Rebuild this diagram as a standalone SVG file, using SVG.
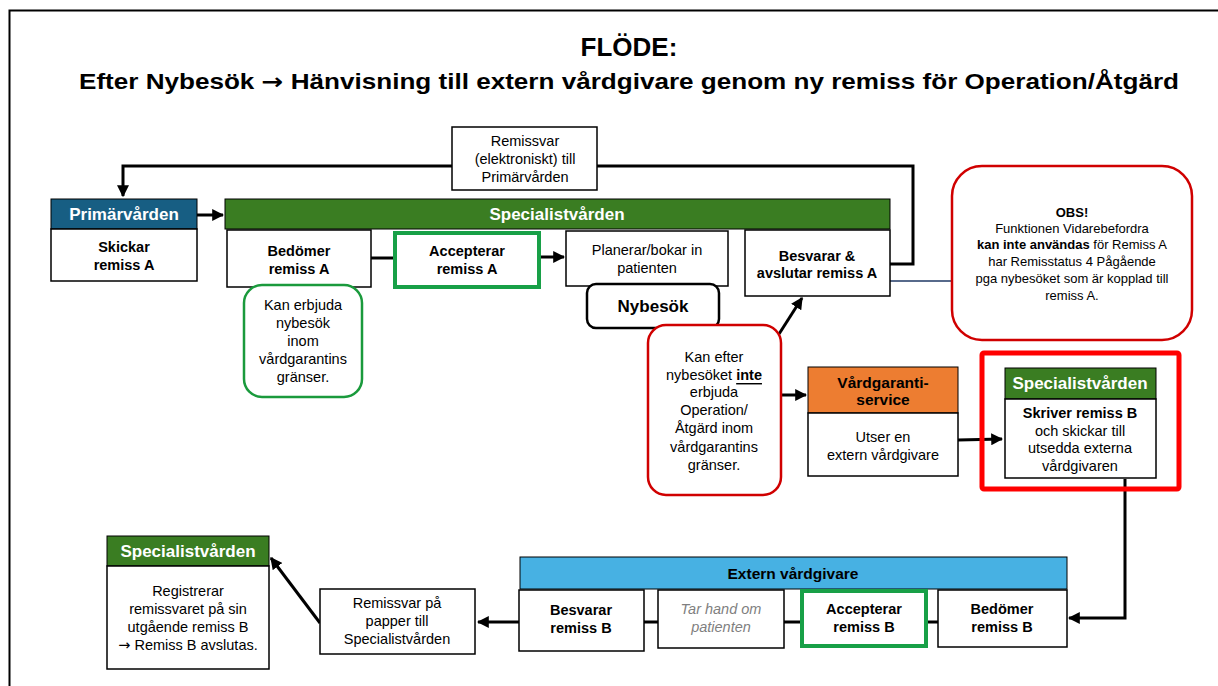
<svg xmlns="http://www.w3.org/2000/svg" width="1218" height="686" viewBox="0 0 1218 686">
  <defs>
    <marker id="arr" viewBox="0 0 10 10" refX="9" refY="5" markerWidth="4" markerHeight="4" orient="auto" markerUnits="strokeWidth">
      <path d="M0,0 L10,5 L0,10 z" fill="#000"/>
    </marker>
    <style>
      text { font-family: "Liberation Sans", Arial, sans-serif; fill: #000; text-anchor: middle; dominant-baseline: central; }
      .title { font-size: 26px; font-weight: bold; }
      .sub { font-size: 22px; font-weight: bold; }
      .hdr { font-size: 17px; font-weight: bold; fill: #fff; }
      .hdrk { font-size: 15.5px; font-weight: bold; }
      .b { font-size: 14.5px; font-weight: bold; }
      .n { font-size: 14.5px; }
      .s { font-size: 13px; }
      .it { font-size: 14.5px; font-style: italic; fill: #7f7f7f; }
      .arrow-glyph { font-family: "DejaVu Sans", sans-serif; }
      .box { fill: #fff; stroke: #000; stroke-width: 1.5; }
      .okbox { fill: #fff; stroke: #18a047; stroke-width: 4; }
      .h-blue { fill: #175e83; stroke: #000; stroke-width: 1; }
      .h-green { fill: #3a7d22; stroke: #000; stroke-width: 1; }
      .h-orange { fill: #ed7d31; stroke: #000; stroke-width: 1; }
      .h-sky { fill: #47b1e3; stroke: #000; stroke-width: 1; }
      .note-ok { fill: #fff; stroke: #1a9a3c; stroke-width: 2.5; }
      .note-no { fill: #fff; stroke: #d00000; stroke-width: 2.5; }
      .conn { fill: none; stroke: #000; stroke-width: 3; }
    </style>
  </defs>

  <rect width="1218" height="686" fill="#fff"/>
  <!-- page frame -->
  <path d="M9.5,686 V10.5 H1218" fill="none" stroke="#000" stroke-width="2"/>

  <!-- heading -->
  <g id="title">
    <text class="title" x="629" y="47">FLÖDE:</text>
    <text class="sub" x="629" y="81" textLength="1100" lengthAdjust="spacingAndGlyphs">Efter Nybesök <tspan class="arrow-glyph">→</tspan> Hänvisning  till extern vårdgivare genom ny remiss för Operation/Åtgärd</text>
  </g>

  <!-- connectors -->
  <g id="connectors">
    <polyline class="conn" points="890,264 913,264 913,166 123,166 123,196" marker-end="url(#arr)"/>
    <line class="conn" x1="197" y1="215" x2="223" y2="215" marker-end="url(#arr)"/>
    <line class="conn" x1="371" y1="258" x2="394" y2="258"/>
    <line class="conn" x1="540" y1="257" x2="564" y2="257" marker-end="url(#arr)"/>
    <line class="conn" x1="779" y1="334" x2="802" y2="298" marker-end="url(#arr)"/>
    <line x1="890" y1="281" x2="953" y2="281" stroke="#1f3864" stroke-width="1.5"/>
    <line class="conn" x1="781" y1="395" x2="806" y2="395" marker-end="url(#arr)"/>
    <line class="conn" x1="958" y1="440" x2="1002" y2="439" marker-end="url(#arr)"/>
    <polyline class="conn" points="1125,479 1125,618 1069,618" marker-end="url(#arr)"/>
    <line class="conn" x1="938" y1="622" x2="478" y2="622" marker-end="url(#arr)"/>
    <line class="conn" x1="320" y1="623" x2="271" y2="558" marker-end="url(#arr)"/>
  </g>

  <!-- electronic answer label -->
  <g id="remissvar-elektroniskt">
    <rect class="box" x="452" y="127" width="145" height="63" stroke-width="1"/>
    <text class="n" x="525" y="141">Remissvar</text>
    <text class="n" x="525" y="159">(elektroniskt) till</text>
    <text class="n" x="525" y="177">Primärvården</text>
  </g>

  <g id="primarvarden">
    <rect class="h-blue" x="51" y="199" width="146" height="30"/>
    <text class="hdr" x="124" y="214">Primärvården</text>
    <rect class="box" x="51" y="229" width="146" height="52"/>
    <text class="b" x="124" y="247">Skickar</text>
    <text class="b" x="124" y="265">remiss A</text>
  </g>

  <g id="specialistvarden-a">
    <rect class="h-green" x="225" y="199" width="665" height="30"/>
    <text class="hdr" x="557" y="214">Specialistvården</text>
  </g>

  <g id="bedomer-a">
    <rect class="box" x="227" y="230" width="144" height="57"/>
    <text class="b" x="299" y="251">Bedömer</text>
    <text class="b" x="299" y="269">remiss A</text>
  </g>

  <g id="accepterar-a">
    <rect class="okbox" x="395" y="233" width="144" height="54"/>
    <text class="b" x="467" y="251">Accepterar</text>
    <text class="b" x="467" y="269">remiss A</text>
  </g>

  <g id="planerar">
    <rect class="box" x="566" y="231" width="162" height="55"/>
    <text class="n" x="647" y="250">Planerar/bokar in</text>
    <text class="n" x="647" y="268">patienten</text>
  </g>

  <g id="nybesok">
    <rect x="587" y="284" width="132" height="44" rx="9" fill="#fff" stroke="#000" stroke-width="2.5"/>
    <text x="653" y="306" style="font-size:17px;font-weight:bold">Nybesök</text>
  </g>

  <g id="besvarar-a">
    <rect class="box" x="745" y="230" width="145" height="66"/>
    <text class="b" x="817" y="256">Besvarar &amp;</text>
    <text class="b" x="817" y="273">avslutar remiss A</text>
  </g>

  <g id="obs">
    <rect class="note-no" x="952" y="166" width="240" height="174" rx="30"/>
    <text class="s" x="1072" y="212" style="font-weight:bold">OBS!</text>
    <text class="s" x="1072" y="228">Funktionen Vidarebefordra</text>
    <text class="s" x="1072" y="244"><tspan font-weight="bold">kan inte användas</tspan> för Remiss A</text>
    <text class="s" x="1072" y="261">har Remisstatus 4 Pågående</text>
    <text class="s" x="1072" y="278">pga nybesöket som är kopplad till</text>
    <text class="s" x="1072" y="295">remiss A.</text>
  </g>

  <g id="kan-erbjuda">
    <rect class="note-ok" x="244" y="285" width="118" height="112" rx="18"/>
    <text class="n" x="303" y="305">Kan erbjuda</text>
    <text class="n" x="303" y="323">nybesök</text>
    <text class="n" x="303" y="341">inom</text>
    <text class="n" x="303" y="359">vårdgarantins</text>
    <text class="n" x="303" y="377">gränser.</text>
  </g>

  <g id="kan-inte">
    <rect class="note-no" x="648" y="325" width="133" height="170" rx="18"/>
    <text class="n" x="714" y="357">Kan efter</text>
    <text class="n" x="714" y="375">nybesöket <tspan font-weight="bold" text-decoration="underline">inte</tspan></text>
    <text class="n" x="714" y="392">erbjuda</text>
    <text class="n" x="714" y="410">Operation/</text>
    <text class="n" x="714" y="428">Åtgärd inom</text>
    <text class="n" x="714" y="447">vårdgarantins</text>
    <text class="n" x="714" y="465">gränser.</text>
  </g>

  <g id="vardgarantiservice">
    <rect class="h-orange" x="808" y="367" width="150" height="46"/>
    <text class="hdrk" x="883" y="382">Vårdgaranti-</text>
    <text class="hdrk" x="883" y="399">service</text>
    <rect class="box" x="808" y="413" width="150" height="63"/>
    <text class="n" x="883" y="437">Utser en</text>
    <text class="n" x="883" y="455">extern vårdgivare</text>
  </g>

  <g id="specialistvarden-b">
    <rect x="982" y="353" width="197" height="136" rx="2" fill="none" stroke="#ff0000" stroke-width="5"/>
    <rect class="h-green" x="1005" y="368" width="151" height="31"/>
    <text class="hdr" x="1080" y="383">Specialistvården</text>
    <rect class="box" x="1005" y="399" width="151" height="79"/>
    <text class="b" x="1080" y="413">Skriver remiss B</text>
    <text class="n" x="1080" y="431">och skickar till</text>
    <text class="n" x="1080" y="448">utsedda externa</text>
    <text class="n" x="1080" y="466">vårdgivaren</text>
  </g>

  <g id="extern-vardgivare">
    <rect class="h-sky" x="520" y="557" width="547" height="32"/>
    <text class="hdrk" x="793" y="573">Extern vårdgivare</text>
  </g>

  <g id="besvarar-b">
    <rect class="box" x="519" y="590" width="125" height="61"/>
    <text class="b" x="581" y="610">Besvarar</text>
    <text class="b" x="581" y="628">remiss B</text>
  </g>

  <g id="tar-hand">
    <rect class="box" x="658" y="590" width="126" height="58"/>
    <text class="it" x="721" y="609">Tar hand om</text>
    <text class="it" x="721" y="627">patienten</text>
  </g>

  <g id="accepterar-b">
    <rect class="okbox" x="802" y="591" width="124" height="55"/>
    <text class="b" x="864" y="609">Accepterar</text>
    <text class="b" x="864" y="627">remiss B</text>
  </g>

  <g id="bedomer-b">
    <rect class="box" x="938" y="590" width="129" height="57"/>
    <text class="b" x="1002" y="609">Bedömer</text>
    <text class="b" x="1002" y="627">remiss B</text>
  </g>

  <g id="remissvar-papper">
    <rect class="box" x="320" y="589" width="155" height="65" stroke-width="1"/>
    <text class="n" x="397" y="603">Remissvar på</text>
    <text class="n" x="397" y="621">papper till</text>
    <text class="n" x="397" y="639">Specialistvården</text>
  </g>

  <g id="specialistvarden-c">
    <rect class="h-green" x="107" y="536" width="162" height="30"/>
    <text class="hdr" x="188" y="551">Specialistvården</text>
    <rect class="box" x="107" y="566" width="162" height="103"/>
    <text class="n" x="188" y="591">Registrerar</text>
    <text class="n" x="188" y="609">remissvaret på sin</text>
    <text class="n" x="188" y="627">utgående remiss B</text>
    <text class="n" x="188" y="645"><tspan class="arrow-glyph">→</tspan> Remiss B avslutas.</text>
  </g>
</svg>
